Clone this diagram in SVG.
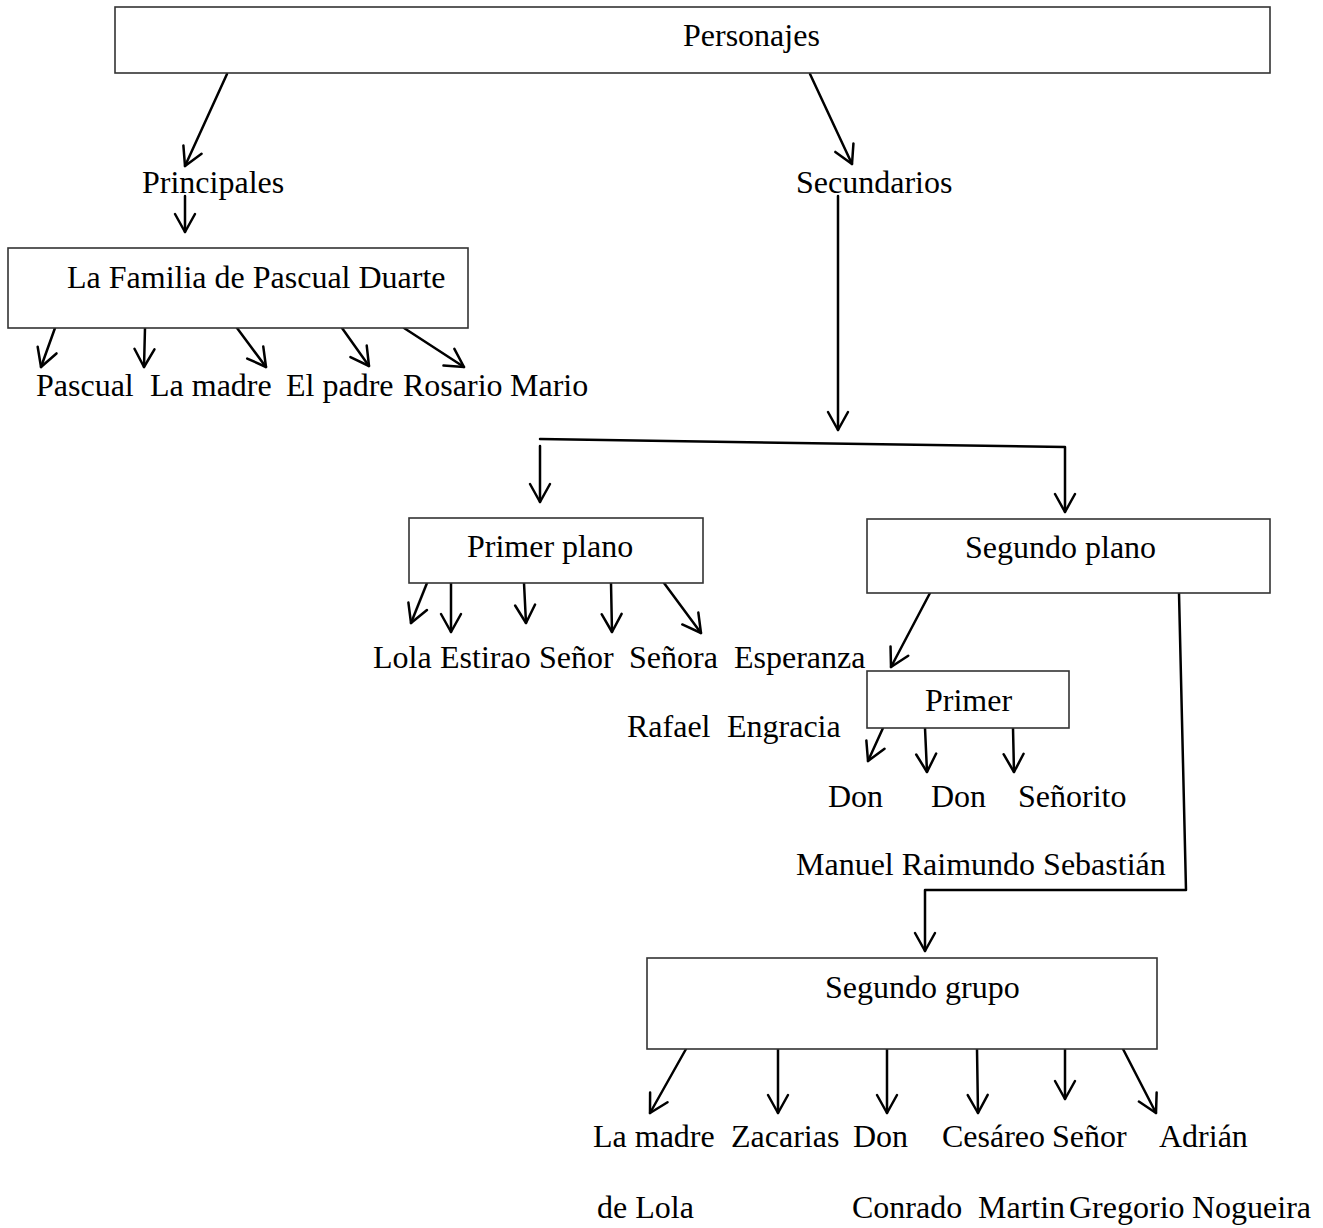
<svg xmlns="http://www.w3.org/2000/svg" width="1323" height="1228" viewBox="0 0 1323 1228">
<style>
  text { font-family: "Liberation Serif", "Times New Roman", serif; font-size: 32px; fill: #000; }
  .box { fill: #fff; stroke: #333; stroke-width: 1.6; }
  .conn { fill: none; stroke: #000; stroke-width: 2.5; stroke-linecap: round; stroke-linejoin: round; }
  .arr { marker-end: url(#ah); }
</style>
<defs>
  <marker id="ah" viewBox="-22 -13 26 26" refX="0" refY="0" markerWidth="26" markerHeight="26" markerUnits="userSpaceOnUse" orient="auto">
    <path d="M-18,-10 L0,0 L-18,10" fill="none" stroke="#000" stroke-width="2.5" stroke-linecap="round" stroke-linejoin="round"/>
  </marker>
</defs>
<rect width="1323" height="1228" fill="#fff"/>

<g id="connectors">
  <line class="conn arr" x1="227" y1="74" x2="185" y2="166"/>
  <line class="conn arr" x1="810" y1="74" x2="852" y2="164"/>
  <line class="conn arr" x1="185" y1="196" x2="185" y2="232"/>
  <line class="conn arr" x1="838" y1="196" x2="838" y2="430"/>
  <!-- Familia children -->
  <line class="conn arr" x1="55" y1="328" x2="41" y2="367"/>
  <line class="conn arr" x1="145" y1="328" x2="144" y2="367"/>
  <line class="conn arr" x1="237" y1="328" x2="266" y2="367"/>
  <line class="conn arr" x1="342" y1="328" x2="369" y2="366"/>
  <line class="conn arr" x1="404" y1="328" x2="464" y2="367"/>
  <!-- split to planos -->
  <polyline class="conn arr" points="540,439 1065,447 1065,512"/>
  <line class="conn arr" x1="540" y1="446" x2="540" y2="502"/>
  <!-- Primer plano children -->
  <line class="conn arr" x1="427" y1="583" x2="411" y2="623"/>
  <line class="conn arr" x1="451" y1="583" x2="451" y2="632"/>
  <line class="conn arr" x1="524" y1="583" x2="526" y2="623"/>
  <line class="conn arr" x1="611" y1="583" x2="612" y2="632"/>
  <line class="conn arr" x1="664" y1="583" x2="701" y2="633"/>
  <!-- Segundo plano children -->
  <line class="conn arr" x1="930" y1="593" x2="891" y2="667"/>
  <polyline class="conn arr" points="1179,593 1186,890 925,890 925,951"/>
  <!-- Primer children -->
  <line class="conn arr" x1="883" y1="728" x2="868" y2="761"/>
  <line class="conn arr" x1="925" y1="728" x2="927" y2="772"/>
  <line class="conn arr" x1="1013" y1="728" x2="1014" y2="772"/>
  <!-- Segundo grupo children -->
  <line class="conn arr" x1="686" y1="1049" x2="650" y2="1113"/>
  <line class="conn arr" x1="778" y1="1049" x2="778" y2="1113"/>
  <line class="conn arr" x1="887" y1="1049" x2="887" y2="1113"/>
  <line class="conn arr" x1="977" y1="1049" x2="978" y2="1113"/>
  <line class="conn arr" x1="1065" y1="1049" x2="1065" y2="1099"/>
  <line class="conn arr" x1="1123" y1="1049" x2="1156" y2="1113"/>
</g>

<g id="personajes">
  <rect class="box" x="115" y="7" width="1155" height="66"/>
  <text x="683" y="46">Personajes</text>
</g>
<g id="principales">
  <text x="142" y="193">Principales</text>
</g>
<g id="secundarios">
  <text x="796" y="193">Secundarios</text>
</g>
<g id="familia">
  <rect class="box" x="8" y="248" width="460" height="80"/>
  <text x="67" y="288">La Familia de Pascual Duarte</text>
</g>
<g id="familia-miembros">
  <text x="36" y="396">Pascual</text>
  <text x="150" y="396">La madre</text>
  <text x="286" y="396">El padre</text>
  <text x="403" y="396">Rosario</text>
  <text x="510" y="396">Mario</text>
</g>
<g id="primer-plano">
  <rect class="box" x="409" y="518" width="294" height="65"/>
  <text x="467" y="557">Primer plano</text>
</g>
<g id="primer-plano-miembros">
  <text x="373" y="668">Lola</text>
  <text x="440" y="668">Estirao</text>
  <text x="539" y="668">Señor</text>
  <text x="629" y="668">Señora</text>
  <text x="734" y="668">Esperanza</text>
  <text x="627" y="737">Rafael</text>
  <text x="727" y="737">Engracia</text>
</g>
<g id="segundo-plano">
  <rect class="box" x="867" y="519" width="403" height="74"/>
  <text x="965" y="558">Segundo plano</text>
</g>
<g id="primer">
  <rect class="box" x="867" y="671" width="202" height="57"/>
  <text x="925" y="711">Primer</text>
</g>
<g id="primer-miembros">
  <text x="828" y="807">Don</text>
  <text x="931" y="807">Don</text>
  <text x="1018" y="807">Señorito</text>
  <text x="796" y="875">Manuel Raimundo Sebastián</text>
</g>
<g id="segundo-grupo">
  <rect class="box" x="647" y="958" width="510" height="91"/>
  <text x="825" y="998">Segundo grupo</text>
</g>
<g id="segundo-grupo-miembros">
  <text x="593" y="1147">La madre</text>
  <text x="731" y="1147">Zacarias</text>
  <text x="853" y="1147">Don</text>
  <text x="942" y="1147">Cesáreo</text>
  <text x="1052" y="1147">Señor</text>
  <text x="1159" y="1147">Adrián</text>
  <text x="597" y="1218">de Lola</text>
  <text x="852" y="1218">Conrado</text>
  <text x="978" y="1218">Martin</text>
  <text x="1069" y="1218">Gregorio</text>
  <text x="1192" y="1218">Nogueira</text>
</g>
</svg>
